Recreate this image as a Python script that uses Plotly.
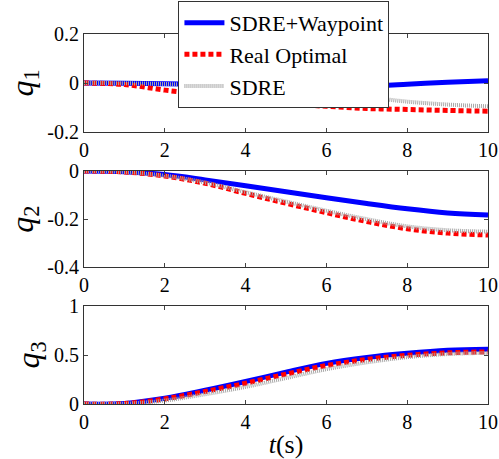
import plotly.graph_objects as go
from plotly.subplots import make_subplots

t = [0, 1, 2, 3, 4, 5, 6, 7, 8, 9, 10]

q1_wp = [0, -0.001, -0.003, -0.006, -0.010, -0.014, -0.015, -0.012, -0.005, 0.003, 0.009]
q1_opt = [0, -0.006, -0.029, -0.047, -0.066, -0.084, -0.095, -0.104, -0.108, -0.112, -0.115]
q1_sdre = [0, -0.001, -0.004, -0.010, -0.020, -0.030, -0.043, -0.058, -0.076, -0.088, -0.095]

q2_wp = [0, -0.003, -0.015, -0.037, -0.061, -0.086, -0.111, -0.135, -0.157, -0.174, -0.183]
q2_opt = [0, -0.004, -0.021, -0.051, -0.093, -0.134, -0.173, -0.21, -0.240, -0.258, -0.266]
q2_sdre = [0, -0.004, -0.020, -0.048, -0.088, -0.127, -0.165, -0.200, -0.230, -0.246, -0.252]

q3_wp = [0, 0.005, 0.058, 0.140, 0.230, 0.325, 0.415, 0.475, 0.517, 0.548, 0.560]
q3_opt = [0, 0.004, 0.052, 0.128, 0.212, 0.305, 0.392, 0.455, 0.497, 0.522, 0.532]
q3_sdre = [0, 0.003, 0.035, 0.100, 0.175, 0.265, 0.355, 0.425, 0.478, 0.510, 0.522]

names = ["SDRE+Waypoint", "Real Optimal", "SDRE"]

y_ranges = [[-0.2, 0.2], [-0.4, 0], [0, 1]]
y_ticks = [[-0.2, 0, 0.2], [-0.4, -0.2, 0], [0, 0.5, 1]]
y_ticktext = [["-0.2", "0", "0.2"], ["-0.4", "-0.2", "0"], ["0", "0.5", "1"]]
x_ticks = [0, 2, 4, 6, 8, 10]
y_titles = ["<i>q</i><sub>1</sub>", "<i>q</i><sub>2</sub>", "<i>q</i><sub>3</sub>"]

series = [(q1_wp, q1_opt, q1_sdre), (q2_wp, q2_opt, q2_sdre), (q3_wp, q3_opt, q3_sdre)]

FONT = "Liberation Serif, Times New Roman, serif"

fig = make_subplots(rows=3, cols=1)

styles = [
    dict(color="#0000ff", width=5, dash="solid"),
    dict(color="#ff0000", width=5, dash="5px,3px"),
    dict(color="#a8a8a8", width=4, dash="1px,1px"),
]
for r, (wp, opt, sd) in enumerate(series, start=1):
    vals = [wp, opt, sd]
    for k in [0, 1, 2]:
        fig.add_trace(go.Scatter(
            x=t, y=vals[k], mode="lines", name=names[k],
            line=dict(shape="spline", **styles[k]),
            showlegend=(r == 1), legendrank=k + 1,
        ), row=r, col=1)

domains = [[0.7124, 0.9259], [0.4176, 0.6275], [0.1198, 0.3333]]
for i in range(3):
    ax = "" if i == 0 else str(i + 1)
    fig.layout["xaxis" + ax].update(
        domain=[0.1683, 0.978], range=[0, 10], tickvals=x_ticks,
        ticks="inside", ticklen=4, mirror="ticks", showline=True,
        linecolor="#333333", linewidth=1, showgrid=False, zeroline=False,
        automargin=False,
        tickfont=dict(family=FONT, size=20, color="black"),
    )
    fig.layout["yaxis" + ax].update(
        domain=domains[i], range=y_ranges[i], tickvals=y_ticks[i],
        ticktext=y_ticktext[i], automargin=False,
        ticks="inside", ticklen=4, mirror="ticks", showline=True,
        linecolor="#333333", linewidth=1, showgrid=False, zeroline=False,
        tickfont=dict(family=FONT, size=20, color="black"),
        title=dict(text=y_titles[i], font=dict(family=FONT, size=32, color="black"), standoff=4),
    )

fig.layout.xaxis3.title = dict(text="<i>t</i>(s)", font=dict(family=FONT, size=26, color="black"), standoff=2)

fig.update_layout(
    width=499, height=459,
    margin=dict(l=0, r=0, t=0, b=0, autoexpand=False),
    paper_bgcolor="white", plot_bgcolor="white",
    font=dict(family=FONT),
    legend=dict(
        x=0.569, y=0.998, xanchor="center", yanchor="top",
        bgcolor="white", bordercolor="#333333", borderwidth=1,
        font=dict(family=FONT, size=22, color="black"),
        tracegroupgap=0, itemwidth=40,
    ),
)

fig.write_html("out.html")
